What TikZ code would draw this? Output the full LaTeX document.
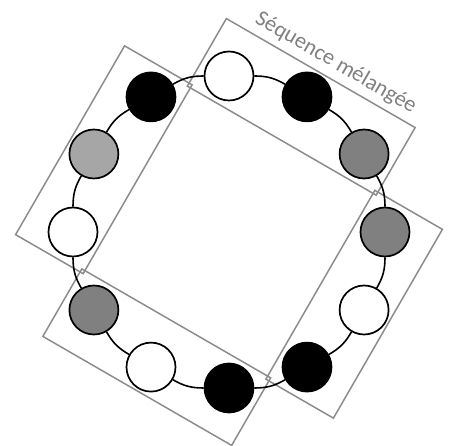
\documentclass[tikz,border=0pt]{standalone}
\usepackage{fontspec}
\setmainfont{Carlito}
\usetikzlibrary{calc}
\definecolor{dgray}{HTML}{808080}
\definecolor{lgray}{HTML}{A6A6A6}
\definecolor{boxgray}{HTML}{8C8C8C}
\begin{document}
\begin{tikzpicture}[x=1pt,y=1pt,
  ball/.style={circle, draw=black, line width=1.7pt, minimum size=49pt, inner sep=0pt},
  grp/.style={draw=boxgray, line width=1.5pt},
  ringline/.style={draw=black, line width=1.6pt},
  lbl/.style={text=dgray, font=\fontsize{22.3}{25}\selectfont, inner sep=0pt}]
\useasboundingbox (-229,-214) rectangle (221,232);
% group boxes
\foreach \r/\nm in {-30/gA, -120/gB, -210/gC, 60/gD}{
  \draw[grp, rotate=\r] (-109,105.5) rectangle (109,183.5);
}
% balls
\node[ball, fill=white] (b90) at (90:156) {};
\node[ball, fill=black] (b60) at (60:156) {};
\node[ball, fill=dgray] (b30) at (30:156) {};
\node[ball, fill=dgray] (b0) at (0:156) {};
\node[ball, fill=white] (bm30) at (-30:156) {};
\node[ball, fill=black] (bm60) at (-60:156) {};
\node[ball, fill=black] (bm90) at (-90:156) {};
\node[ball, fill=white] (bm120) at (-120:156) {};
\node[ball, fill=dgray] (bm150) at (-150:156) {};
\node[ball, fill=white] (b180) at (180:156) {};
\node[ball, fill=lgray] (b150) at (150:156) {};
\node[ball, fill=black] (b120) at (120:156) {};
% ring connectors
\foreach \a/\b in {b90/b60, b60/b30, b30/b0, b0/bm30, bm30/bm60, bm60/bm90,
                   bm90/bm120, bm120/bm150, bm150/b180, b180/b150, b150/b120, b120/b90}{
  \draw[ringline] (\a) to[bend left=15] (\b);
}
% label
\node[lbl, rotate=-30, anchor=base] (lab) at ($(-30:8)+(60:194)$) {Séquence mélangée};
\end{tikzpicture}
\end{document}
